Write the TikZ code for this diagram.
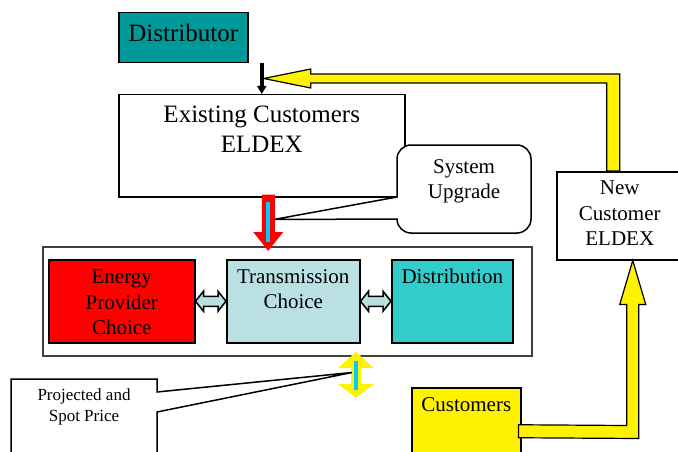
\documentclass[tikz,border=0pt]{standalone}
\usepackage{fontspec}
\setmainfont{Liberation Serif}
\usetikzlibrary{positioning,calc,arrows.meta}

\definecolor{distteal}{RGB}{0,153,153}
\definecolor{transblue}{RGB}{187,224,227}
\definecolor{distcyan}{RGB}{51,204,204}
\definecolor{flowcyan}{RGB}{0,204,255}

\begin{document}
\begin{tikzpicture}[x=1pt, y=-1pt,
    box/.style={draw, line width=1.5pt, inner sep=0pt, anchor=north west},
    txt/.style={inner sep=0pt, align=center},
    big/.style={font=\fontsize{25}{30}\selectfont},
    mid/.style={font=\fontsize{21}{25.5}\selectfont},
    small/.style={font=\fontsize{17}{21}\selectfont},
    callout/.style={draw, line width=1.5pt, fill=white},
    yellowarrow/.style={draw, line width=1.2pt, fill=yellow},
    linkarrow/.style={draw, line width=1.5pt, fill=transblue},
    flowarrow/.style={draw=#1, line width=1pt, fill=#1},
    flowline/.style={flowcyan, line width=4pt}]

    \useasboundingbox (0,0) rectangle (678,452);
    \clip (0,0) rectangle (678,452);

    % draw boxes
    \node[box, fill=distteal, minimum width=129pt, minimum height=50pt] (dist) at (118,12) {};
    \node[box, minimum width=286pt, minimum height=102pt] (exist) at (118,94) {};
    \node[box, minimum width=126pt, minimum height=88pt] (newc) at (556,171) {};
    \node[box, draw=black!75, minimum width=489pt, minimum height=109pt] (group) at (42,246) {};
    \node[box, fill=red, minimum width=146pt, minimum height=83pt] (energy) at (48,259) {};
    \node[box, fill=transblue, minimum width=133pt, minimum height=83pt] (trans) at (226,259) {};
    \node[box, fill=distcyan, minimum width=121pt, minimum height=83pt] (distr) at (391,259) {};
    \node[box, fill=yellow, minimum width=109pt, minimum height=87pt] (cust) at (411,387) {};

    % draw box texts
    \node[txt, big, below=12pt of dist.north] (disttxt) {Distributor};
    \node[txt, big, below=12pt of exist.north] (existtxt) {Existing Customers\\ELDEX};
    \node[txt, mid, below=10pt of newc.north] (newctxt) {New\\Customer\\ELDEX};
    \node[txt, mid, below=11pt of energy.north] (energytxt) {Energy\\Provider\\Choice};
    \node[txt, mid, below=10pt of trans.north] (transtxt) {Transmission\\Choice};
    \node[txt, mid, below=10pt of distr.north] (distrtxt) {Distribution};
    \node[txt, mid, below=10.5pt of cust.north] (custtxt) {Customers};

    % draw arrows
    \draw[line width=3.5pt, -{Triangle[length=8pt,width=9pt]}] (exist.north |- dist.south) -- (exist.north);
    \path[yellowarrow] (newc.north) -- ++(0,-97) -- ($(exist.north)+(49,-20)$) -- ++(0,-5)
      -- ($(exist.north)+(2,-15.5)$) -- ($(exist.north)+(49,-6)$) -- ++(0,-5)
      -- ($(newc.north)+(-13,-88)$) -- ($(newc.north)+(-13,0)$) -- cycle;
    \path[yellowarrow] ($(cust.east)+(-3,-6.5)$) -- ($(newc.south)+(7,165)$) -- ++(0,-121) -- ++(-7,0)
      -- ($(newc.south)+(13,0)$) -- ++(13,44) -- ++(-7,0)
      -- ($(newc.south)+(19,178)$) -- ($(cust.east)+(-3,6.5)$) -- cycle;
    \draw[flowarrow=red] ($(exist.south)+(0.5,-2.5)$) -- ++(0,37.5) -- ++(-8,0)
      -- ($(exist.south)+(6.5,52.5)$) -- ++(14,-17.5) -- ++(-8,0) -- ++(0,-37.5) -- cycle;
    \draw[flowline] ($(exist.south)+(6.5,4)$) -- ($(exist.south)+(6.5,44)$);
    \foreach \a/\b in {energy/trans, trans/distr}
      \draw[linkarrow] (\a.east) -- ++(8,-10) -- ++(0,5) -- ($(\b.west)+(-8,-5)$) -- ++(0,-5)
        -- (\b.west) -- ++(-8,10) -- ++(0,-5) -- ($(\a.east)+(8,5)$) -- ++(0,5) -- cycle;
    \coordinate (pa) at ($(group.south west)+(314,18)$);
    \draw[flowarrow=yellow] ($(pa)+(0,-22)$) -- ++(16.5,15) -- ++(-12,0) -- ++(0,17) -- ++(12,0)
      -- ++(-16.5,12.5) -- ++(-16.5,-12.5) -- ++(12,0) -- ++(0,-17) -- ++(-12,0) -- cycle;
    \draw[flowline] ($(pa)+(0,-14)$) -- ($(pa)+(0,15)$);

    % draw callouts
    \coordinate (utip) at ($(exist.south)+(12,22)$);
    \draw[callout] (397,197) -- (397,159) arc[start angle=180, end angle=270, radius=14]
      -- (517,145) arc[start angle=270, end angle=360, radius=14]
      -- (531,219) arc[start angle=0, end angle=90, radius=14]
      -- (411,233) arc[start angle=90, end angle=180, radius=14] -- (utip) -- cycle;
    \node[txt, mid, anchor=north] (upg) at (464,159) {System\\Upgrade};
    \coordinate (ptip) at ($(pa)+(-4,-2)$);
    \draw[callout] (11,379) -- (157,379) -- (157,392) -- (ptip) -- (157,412) -- (157,470) -- (11,470) -- cycle;
    \node[txt, small, anchor=north] (price) at (84,389) {Projected and\\Spot Price};
\end{tikzpicture}
\end{document}
